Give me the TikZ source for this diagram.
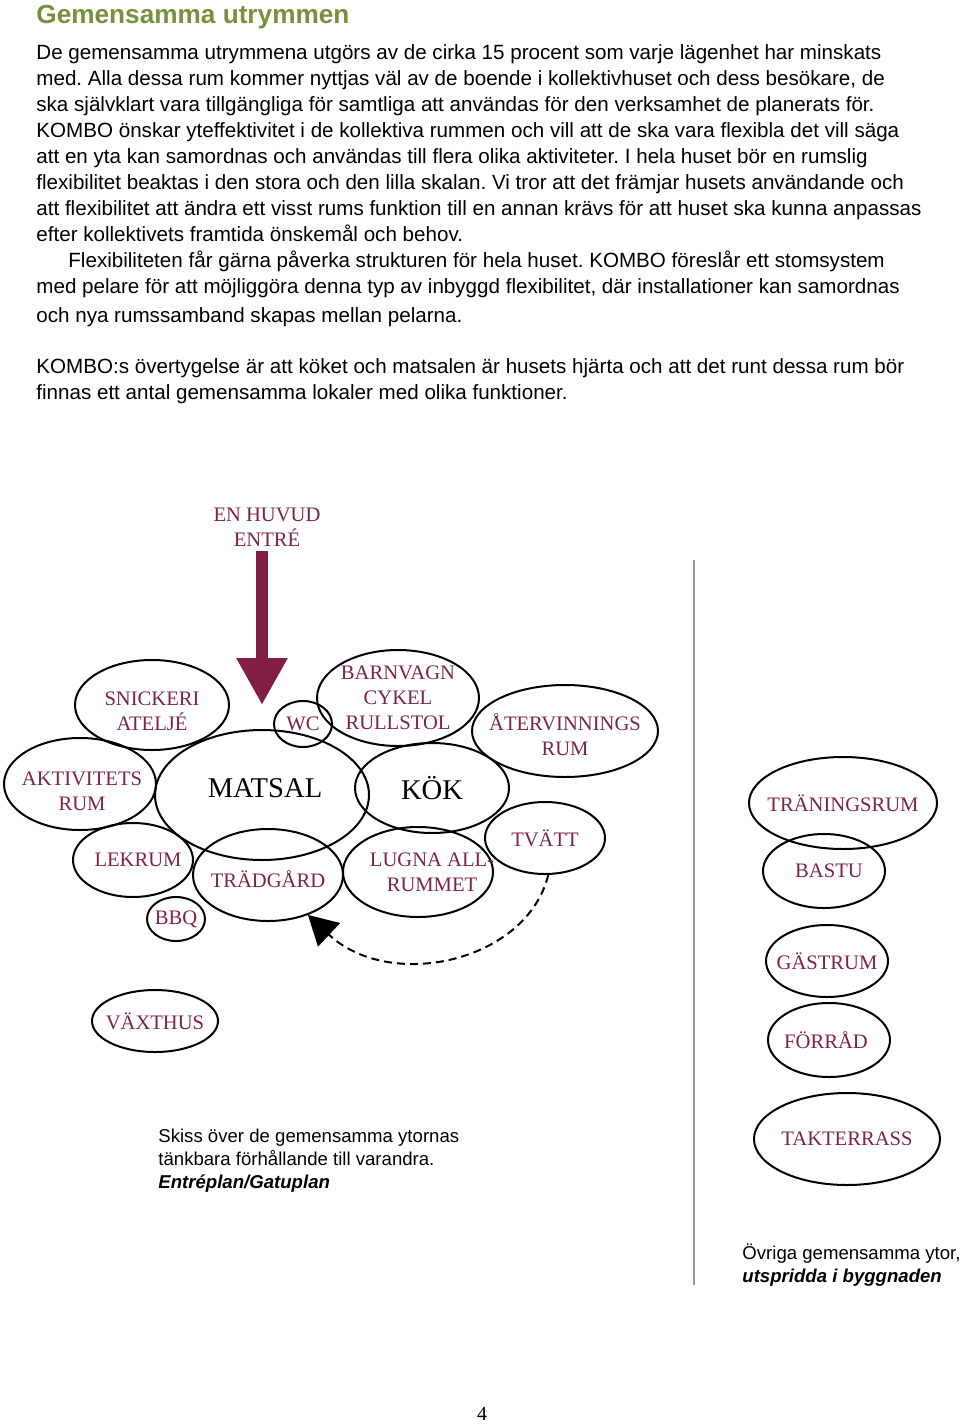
\documentclass[tikz,border=0pt]{standalone}
\usepackage{fontspec}
\setmainfont{Liberation Sans}
\newfontfamily\rumfont{Liberation Serif}
\usepackage{xcolor}
\usetikzlibrary{shapes.geometric,arrows.meta}
\definecolor{vinrod}{RGB}{125,35,75}
\definecolor{pilrod}{RGB}{130,30,70}
\definecolor{rubrik}{RGB}{118,146,60}
\frenchspacing

\begin{document}
\begin{tikzpicture}[x=0.5pt,y=-0.5pt,
  rum/.style 2 args={ellipse,draw,line width=1pt,minimum width=#1*0.5pt,minimum height=#2*0.5pt,inner sep=0pt},
  etikett/.style={font=\rumfont\fontsize{10.3}{12.5}\selectfont,text=vinrod,align=center,inner sep=0pt},
  storetikett/.style={font=\rumfont\fontsize{14.3}{16}\selectfont,text=black,inner sep=0pt},
  brodtext/.style={font=\fontsize{10.3}{13}\selectfont,align=left,inner sep=0pt,anchor=base west},
  bildtext/.style={font=\fontsize{9.3}{11.3}\selectfont,align=left,inner sep=0pt,anchor=base west}]
\useasboundingbox (0,0) rectangle (960,1424);

% rubrik och text
\node[font=\bfseries\fontsize{13.1}{16}\selectfont,text=rubrik,anchor=base west,inner sep=0pt] (rubrik) at (36,24) {Gemensamma utrymmen};
\node[brodtext] (stycke1) at (36,322) {De gemensamma utrymmena utgörs av de cirka 15 procent som varje lägenhet har minskats\\
med. Alla dessa rum kommer nyttjas väl av de boende i kollektivhuset och dess besökare, de\\
ska självklart vara tillgängliga för samtliga att användas för den verksamhet de planerats för.\\
KOMBO önskar yteffektivitet i de kollektiva rummen och vill att de ska vara flexibla det vill säga\\
att en yta kan samordnas och användas till flera olika aktiviteter. I hela huset bör en rumslig\\
flexibilitet beaktas i den stora och den lilla skalan. Vi tror att det främjar husets användande och\\
att flexibilitet att ändra ett visst rums funktion till en annan krävs för att huset ska kunna anpassas\\
efter kollektivets framtida önskemål och behov.\\
\hspace*{16pt}Flexibiliteten får gärna påverka strukturen för hela huset. KOMBO föreslår ett stomsystem\\
med pelare för att möjliggöra denna typ av inbyggd flexibilitet, där installationer kan samordnas\\[1.3pt]
och nya rumssamband skapas mellan pelarna.};
\node[brodtext] (stycke2) at (36,399) {KOMBO:s övertygelse är att köket och matsalen är husets hjärta och att det runt dessa rum bör\\
finnas ett antal gemensamma lokaler med olika funktioner.};

% entre
\node[etikett] (entre) at (267,527) {EN HUVUD\\ENTRÉ};
\coordinate (ingang) at (262,705);
\draw[pilrod,line width=6pt,-{Triangle[width=24pt,length=23.5pt]}] (ingang|-entre.south) ++(0,4) -- (ingang);

% rum kring matsalen
\node[rum={154}{90},label={[etikett,yshift=-3pt]center:SNICKERI\\ATELJÉ}] (snickeri) at (152,705) {};
\node[rum={58}{46},label={[etikett]center:WC}] (wc) at (303,724) {};
\node[rum={162}{96},label={[etikett]center:BARNVAGN\\CYKEL\\RULLSTOL}] (barnvagn) at (398,698) {};
\node[rum={186}{92},label={[etikett,yshift=-2pt]center:ÅTERVINNINGS\\RUM}] (atervinning) at (565,731) {};
\node[rum={152}{92},label={[etikett,xshift=1pt,yshift=-3.5pt]center:AKTIVITETS\\RUM}] (aktivitet) at (80,784) {};
\node[rum={214}{130},label={[storetikett,xshift=1.5pt,yshift=3.5pt]center:MATSAL}] (matsal) at (262,795) {};
\node[rum={154}{90},label={[storetikett]center:KÖK}] (kok) at (432,788) {};
\node[rum={120}{72},label={[etikett]center:TVÄTT}] (tvatt) at (545,838) {};
\node[rum={120}{74},label={[etikett,xshift=2.5pt]center:LEKRUM}] (lekrum) at (133,860) {};
\node[rum={150}{92},label={[etikett,yshift=-2pt]center:TRÄDGÅRD}] (tradgard) at (268,875) {};
\node[rum={150}{90},label={[etikett,xshift=7pt]center:LUGNA ALL-\\RUMMET}] (lugna) at (418,872) {};
\node[rum={58}{44},label={[etikett]center:BBQ}] (bbq) at (176,919) {};
\node[rum={126}{62},label={[etikett]center:VÄXTHUS}] (vaxthus) at (155,1021) {};

\draw[dashed,dash pattern=on 4pt off 2.5pt,line width=1pt,-{Triangle[width=16pt,length=14.5pt]}]
  (tvatt.-85) .. controls (527,962) and (390,992) .. (tradgard.-45);

% skiljelinje
\draw[black!40,line width=0.6pt] (694,560) -- (694,1285);

% ovriga rum
\node[rum={188}{92},label={[etikett]center:TRÄNINGSRUM}] (traning) at (843,803) {};
\node[rum={122}{74},label={[etikett,xshift=2.5pt]center:BASTU}] (bastu) at (824,871) {};
\node[rum={122}{72},label={[etikett]center:GÄSTRUM}] (gastrum) at (827,961) {};
\node[rum={122}{74},label={[etikett,xshift=-1.5pt]center:FÖRRÅD}] (forrad) at (829,1040) {};
\node[rum={186}{92},label={[etikett]center:TAKTERRASS}] (takterrass) at (847,1139) {};

% bildtexter
\node[bildtext] (skiss) at (158,1188) {Skiss över de gemensamma ytornas\\
tänkbara förhållande till varandra.\\
\textbf{\textit{Entréplan/Gatuplan}}};
\node[bildtext] (ovriga) at (742,1282) {Övriga gemensamma ytor,\\
\textbf{\textit{utspridda i byggnaden}}};
\node[font=\rumfont\fontsize{10}{12}\selectfont,inner sep=0pt,anchor=base] (sida) at (482,1420) {4};
\end{tikzpicture}
\end{document}
